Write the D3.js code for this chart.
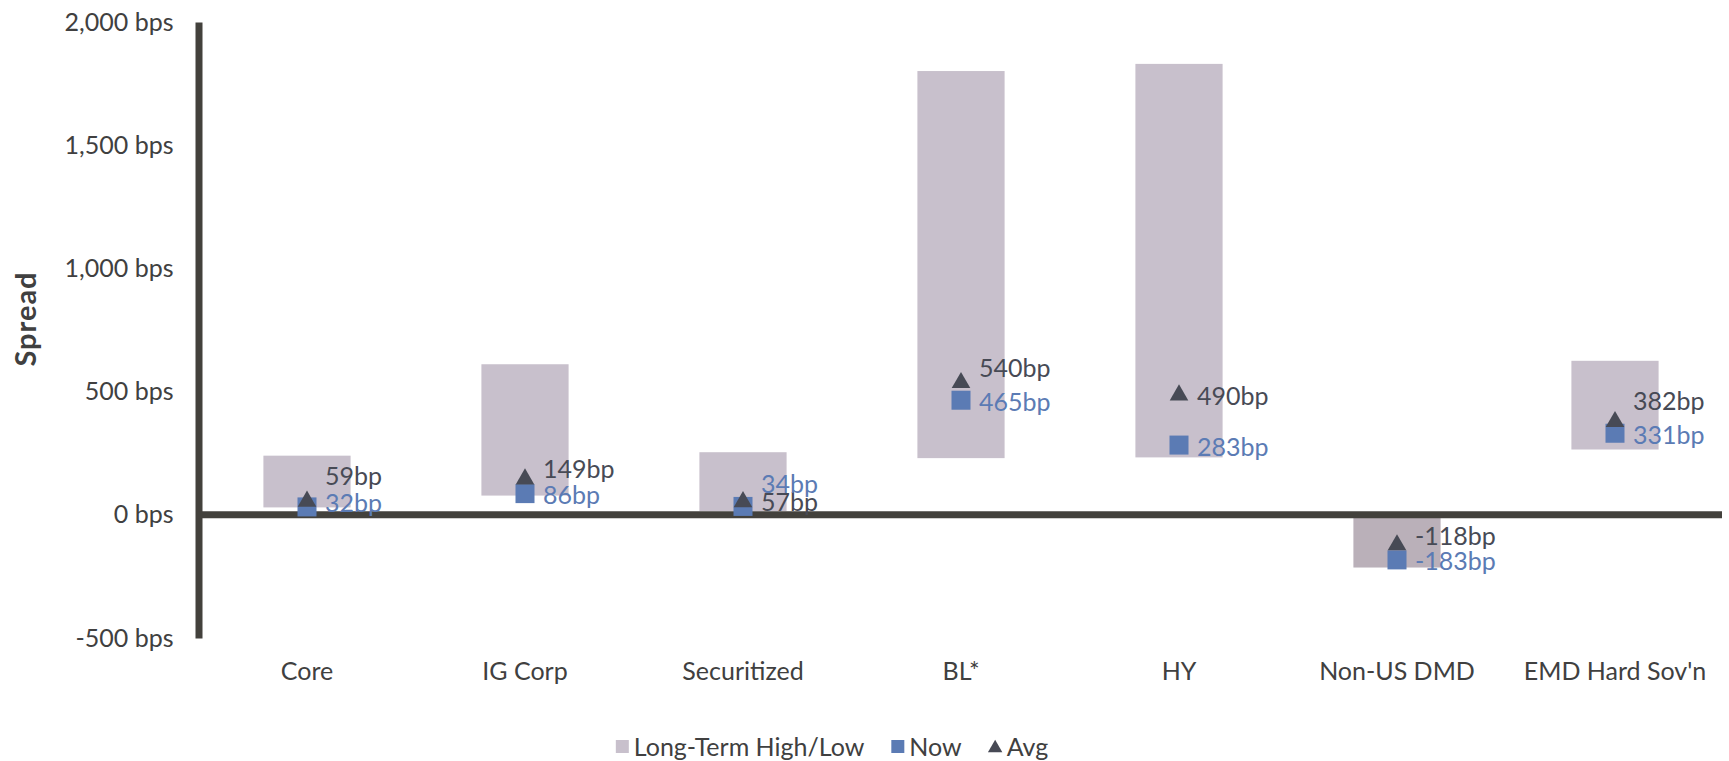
<!DOCTYPE html>
<html>
<head>
<meta charset="utf-8">
<script src="https://cdn.jsdelivr.net/npm/d3@7"></script>
<style>
  body { margin: 0; background: #fff; overflow: hidden; }
  svg { display: block; }
  svg text { font-family: Lato, "Open Sans", sans-serif; fill: #404040; }
</style>
</head>
<body>
<svg class="spread-chart"></svg>
<script>
// spread ranges by sector
const categories = ["Core", "IG Corp", "Securitized", "BL*", "HY", "Non-US DMD", "EMD Hard Sov'n"];
const lowValues  = [30, 78, 15, 230, 233, 0, 265];
const highValues = [240, 611, 254, 1801, 1830, -214, 625];
const nowValues  = [32, 86, 34, 465, 283, -183, 331];
const avgValues  = [59, 149, 57, 540, 490, -118, 382];
const yTicks = [-500, 0, 500, 1000, 1500, 2000];
const legendNames = ["Long-Term High/Low", "Now", "Avg"];

// manual label nudges (px) so labels don't collide, like the original
const avgNudge = [-25, -10, 0, -15, 1, -9, -21];
const nowNudge = [-5, 0, -23, 1, 1, 0, 1];

const W = 1729, H = 761;
const axisColor = "#43413c";
const boxColor = "#c8c0cc";
const nowColor = "#5b7bb4";
const avgColor = "#474a55";
const fs = "25px";

var svg = d3.select(".spread-chart")
  .attr("width", W)
  .attr("height", H);

const x = d3.scaleBand()
  .domain(categories)
  .range([198, 1724])
  .paddingInner(0.6)
  .paddingOuter(0.3);

const y = d3.scaleLinear()
  .domain([-500, 2000])
  .range([638, 22]);

// y axis
var yAxis = svg.append("g")
  .attr("transform", "translate(198.5,0)")
  .call(d3.axisLeft(y)
    .tickValues(yTicks)
    .tickSize(0)
    .tickPadding(25)
    .tickFormat(d => d3.format(",")(d).replace("\u2212", "-") + " bps"));
yAxis.select(".domain")
  .attr("stroke", axisColor)
  .attr("stroke-width", 7);
yAxis.selectAll(".tick text")
  .style("font-size", fs)
  .attr("fill", "#404040");

svg.append("text")
  .attr("transform", "translate(24," + 319 + ") rotate(-90)")
  .attr("text-anchor", "middle")
  .attr("dominant-baseline", "central")
  .style("font-size", "29px")
  .style("font-weight", "bold")
  .style("letter-spacing", "1px")
  .text("Spread");

// high/low boxes
var rows = categories.map((c, i) => ({
  cat: c, low: lowValues[i], high: highValues[i],
  now: nowValues[i], avg: avgValues[i], i: i
}));

svg.selectAll("rect.box")
  .data(rows)
  .enter().append("rect")
  .attr("class", "box")
  .attr("x", d => x(d.cat))
  .attr("width", x.bandwidth())
  .attr("y", d => y(Math.max(d.low, d.high)))
  .attr("height", d => Math.abs(y(d.low) - y(d.high)))
  .attr("fill", d => d.high < 0 ? "#bab0b9" : boxColor);

// zero line
svg.append("line")
  .attr("x1", 198)
  .attr("x2", 1722)
  .attr("y1", y(0))
  .attr("y2", y(0))
  .attr("stroke", axisColor)
  .attr("stroke-width", 7);

// category labels
svg.append("g")
  .attr("transform", "translate(0,638)")
  .call(d3.axisBottom(x).tickSize(0).tickPadding(24))
  .call(g => g.select(".domain").remove())
  .selectAll(".tick text")
  .style("font-size", fs)
  .attr("fill", "#404040");

// markers
var cx = d => x(d.cat) + x.bandwidth() / 2;
var sq = 19;
svg.selectAll("rect.now")
  .data(rows)
  .enter().append("rect")
  .attr("class", "now")
  .attr("x", d => cx(d) - sq / 2)
  .attr("y", d => y(d.now) - sq / 2)
  .attr("width", sq)
  .attr("height", sq)
  .attr("fill", nowColor);

var tri = d3.symbol().type(d3.symbolTriangle).size(150);
svg.selectAll("path.avg")
  .data(rows)
  .enter().append("path")
  .attr("class", "avg")
  .attr("d", tri)
  .attr("transform", d => "translate(" + cx(d) + "," + (y(d.avg) + 1) + ")")
  .attr("fill", avgColor);

// value labels
svg.selectAll("text.avgl")
  .data(rows)
  .enter().append("text")
  .attr("class", "avgl")
  .attr("x", d => cx(d) + 18)
  .attr("y", d => y(d.avg) + avgNudge[d.i])
  .attr("dominant-baseline", "central")
  .style("font-size", fs)
  .style("fill", avgColor)
  .text(d => d.avg + "bp");

svg.selectAll("text.nowl")
  .data(rows)
  .enter().append("text")
  .attr("class", "nowl")
  .attr("x", d => cx(d) + 18)
  .attr("y", d => y(d.now) + nowNudge[d.i])
  .attr("dominant-baseline", "central")
  .style("font-size", fs)
  .style("fill", nowColor)
  .text(d => d.now + "bp");

// legend - laid out left to right, then centred under the plot
var legend = svg.append("g");
var legendColors = [boxColor, nowColor, avgColor];
var lx = 0;
legendNames.forEach((name, i) => {
  if (i == 2) {
    legend.append("path")
      .attr("d", d3.symbol().type(d3.symbolTriangle).size(90))
      .attr("transform", "translate(" + (lx + 6.5) + ",2)")
      .attr("fill", legendColors[i]);
  } else {
    legend.append("rect")
      .attr("x", lx).attr("y", -6)
      .attr("width", 13).attr("height", 13)
      .attr("fill", legendColors[i]);
  }
  var t = legend.append("text")
    .attr("x", lx + 18)
    .attr("dominant-baseline", "central")
    .style("font-size", fs)
    .text(name);
  lx = lx + 18 + t.node().getComputedTextLength() + 27;
});
var legendWidth = lx - 27;
legend.attr("transform", "translate(" + (832 - legendWidth / 2) + ",746)");
</script>
</body>
</html>
